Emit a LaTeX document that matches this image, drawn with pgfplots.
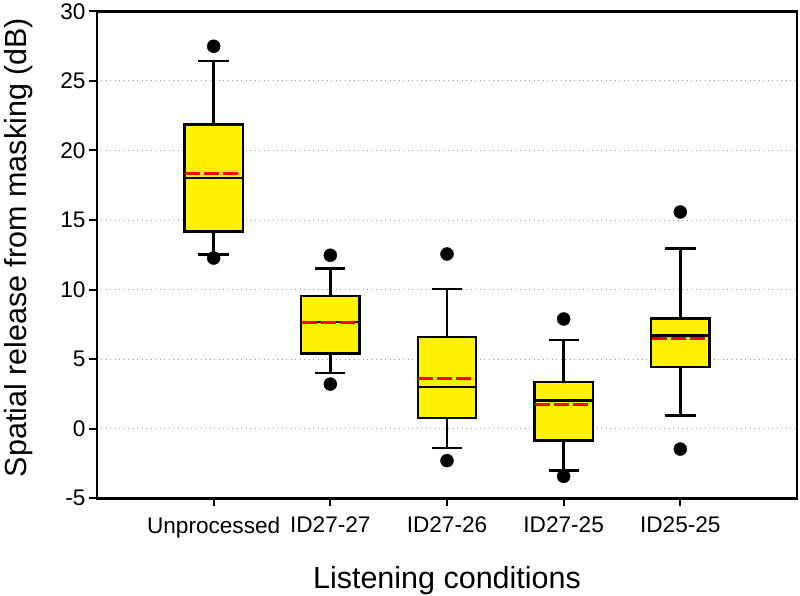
\documentclass[border=0pt]{standalone}
\usepackage{pgfplots}
\pgfplotsset{compat=1.18}
\usepgfplotslibrary{statistics}
\usepackage{fontspec}
\setmainfont{Liberation Sans}
\begin{document}
\begin{tikzpicture}
\begin{axis}[
  scale only axis, width=700pt, height=487pt,
  xmin=0, xmax=6, ymin=-5, ymax=30,
  xtick={1,2,3,4,5},
  xticklabels={Unprocessed,ID27-27,ID27-26,ID27-25,ID25-25},
  ytick={-5,0,5,10,15,20,25,30},
  tick align=outside, xtick pos=bottom, ytick pos=left,
  major tick length=8pt,
  tick style={line width=2pt, black},
  axis line style={line width=2.5pt},
  ymajorgrids, grid style={gray!80, line width=0.9pt, dash pattern=on 1pt off 3.5pt},
  /pgf/number format/assume math mode=true,
  ticklabel style={font=\fontsize{22.6}{26}\selectfont},
  xticklabel style={yshift=-7pt},
  xlabel={Listening conditions}, ylabel={Spatial release from masking (dB)},
  label style={font=\fontsize{30.5}{36}\selectfont, inner sep=0pt},
  xlabel style={at={(axis description cs:0.5,-0.1848)}, anchor=base},
  ylabel style={at={(axis description cs:-0.0914,0.515)}, anchor=south},
  boxplot/draw direction=y,
  boxplot/box extend=0.5,
  boxplot/whisker extend=0.26,
  boxplot/every box/.style={draw=black, fill=yellow, line width=2.4pt},
  boxplot/every median/.style={draw=black, line width=2.4pt},
  boxplot/every whisker/.style={draw=black, line width=2.4pt},
  clip=false,
]
\coordinate (sw) at (rel axis cs:0,0);
\coordinate (ne) at (rel axis cs:1,1);
\addplot[boxplot prepared={draw position=1, lower whisker=12.53, lower quartile=14.19, median=18.02, upper quartile=21.86, upper whisker=26.41},
  fill=yellow, draw=black, line width=2.4pt, mark=*, mark size=6.5pt, mark options={fill=black, draw=black, line width=0.4pt}]
  table[row sep=\\, y index=0] {data\\ 27.49\\ 12.27\\};
\addplot[boxplot prepared={draw position=2, lower whisker=4.00, lower quartile=5.40, median=7.67, upper quartile=9.52, upper whisker=11.51},
  fill=yellow, draw=black, line width=2.4pt, mark=*, mark size=6.5pt, mark options={fill=black, draw=black, line width=0.4pt}]
  table[row sep=\\, y index=0] {data\\ 12.47\\ 3.21\\};
\addplot[boxplot prepared={draw position=3, lower whisker=-1.39, lower quartile=0.77, median=3.00, upper quartile=6.59, upper whisker=10.04},
  fill=yellow, draw=black, line width=2.4pt, mark=*, mark size=6.5pt, mark options={fill=black, draw=black, line width=0.4pt}]
  table[row sep=\\, y index=0] {data\\ 12.56\\ -2.29\\};
\addplot[boxplot prepared={draw position=4, lower whisker=-3.01, lower quartile=-0.83, median=2.04, upper quartile=3.36, upper whisker=6.40},
  fill=yellow, draw=black, line width=2.4pt, mark=*, mark size=6.5pt, mark options={fill=black, draw=black, line width=0.4pt}]
  table[row sep=\\, y index=0] {data\\ 7.89\\ -3.42\\};
\addplot[boxplot prepared={draw position=5, lower whisker=0.96, lower quartile=4.44, median=6.71, upper quartile=7.92, upper whisker=12.95},
  fill=yellow, draw=black, line width=2.4pt, mark=*, mark size=6.5pt, mark options={fill=black, draw=black, line width=0.4pt}]
  table[row sep=\\, y index=0] {data\\ 15.58\\ -1.46\\};
% means
\addplot[red, line width=3pt, dash pattern=on 15pt off 4pt] coordinates {(0.755,18.38) (1.21,18.38)};
\addplot[red, line width=3pt, dash pattern=on 15pt off 4pt] coordinates {(1.755,7.65) (2.21,7.65)};
\addplot[red, line width=3pt, dash pattern=on 15pt off 4pt] coordinates {(2.755,3.60) (3.21,3.60)};
\addplot[red, line width=3pt, dash pattern=on 15pt off 4pt] coordinates {(3.755,1.73) (4.21,1.73)};
\addplot[red, line width=3pt, dash pattern=on 15pt off 4pt] coordinates {(4.755,6.48) (5.21,6.48)};
\end{axis}
\path ([shift={(-97pt,-97pt)}]sw) rectangle ([shift={(3pt,10pt)}]ne);
\end{tikzpicture}
\end{document}
